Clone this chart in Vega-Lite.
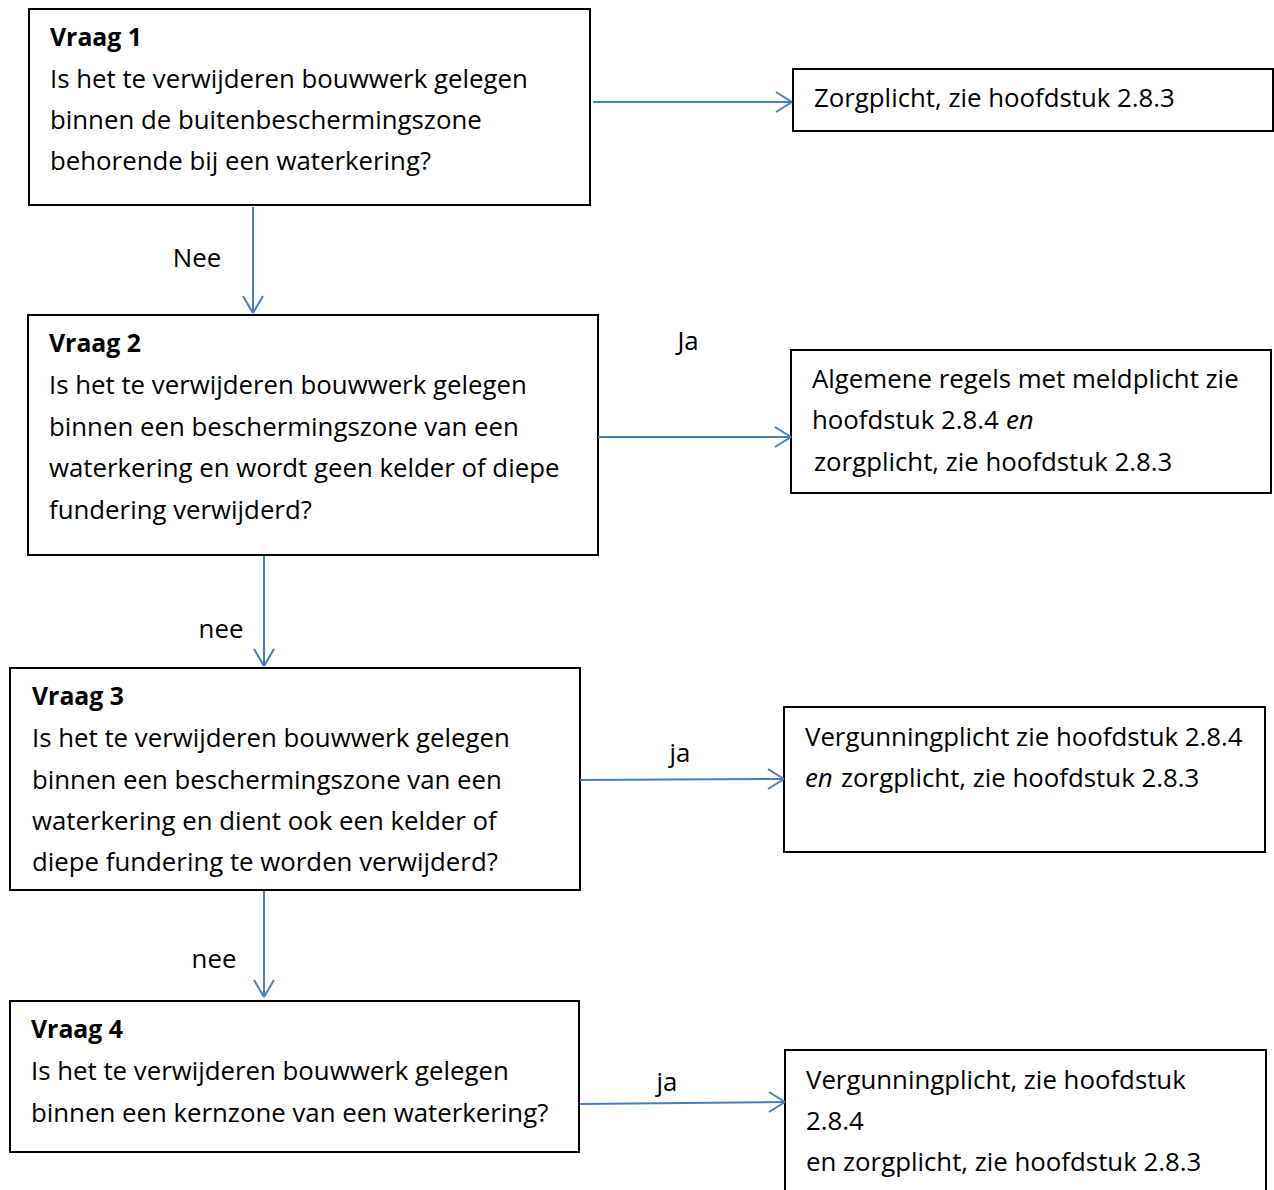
{
  "$schema": "https://vega.github.io/schema/vega-lite/v6.json",
  "width": 1274,
  "height": 1190,
  "padding": 0,
  "autosize": {"type": "none"},
  "background": "white",
  "config": {"view": {"stroke": null}, "axis": {"disable": true}},
  "datasets": {
    "boxes": [
      {"id": "q1", "x": 29, "x2": 590, "y": 9, "y2": 205},
      {"id": "r1", "x": 793, "x2": 1273, "y": 69, "y2": 131},
      {"id": "q2", "x": 28, "x2": 598, "y": 315, "y2": 555},
      {"id": "r2", "x": 791, "x2": 1271, "y": 350, "y2": 493},
      {"id": "q3", "x": 10, "x2": 580, "y": 668, "y2": 890},
      {"id": "r3", "x": 784, "x2": 1265, "y": 707, "y2": 852},
      {"id": "q4", "x": 10, "x2": 579, "y": 1001, "y2": 1152},
      {"id": "r4", "x": 785, "x2": 1266, "y": 1050, "y2": 1210}
    ],
    "lines": [
      {"x": 593, "y": 102, "x2": 792, "y2": 102},
      {"x": 792, "y": 102, "x2": 776, "y2": 92},
      {"x": 792, "y": 102, "x2": 776, "y2": 112},
      {"x": 253, "y": 207, "x2": 253, "y2": 313},
      {"x": 253, "y": 313, "x2": 243, "y2": 296},
      {"x": 253, "y": 313, "x2": 263, "y2": 296},
      {"x": 598, "y": 437, "x2": 791, "y2": 437},
      {"x": 791, "y": 437, "x2": 775, "y2": 427},
      {"x": 791, "y": 437, "x2": 775, "y2": 447},
      {"x": 264, "y": 556, "x2": 264, "y2": 666},
      {"x": 264, "y": 666, "x2": 254, "y2": 649},
      {"x": 264, "y": 666, "x2": 274, "y2": 649},
      {"x": 580, "y": 780, "x2": 784, "y2": 779},
      {"x": 784, "y": 779, "x2": 768, "y2": 769},
      {"x": 784, "y": 779, "x2": 768, "y2": 789},
      {"x": 264, "y": 891, "x2": 264, "y2": 997},
      {"x": 264, "y": 997, "x2": 254, "y2": 980},
      {"x": 264, "y": 997, "x2": 274, "y2": 980},
      {"x": 580, "y": 1104, "x2": 785, "y2": 1102},
      {"x": 785, "y": 1102, "x2": 769, "y2": 1092},
      {"x": 785, "y": 1102, "x2": 769, "y2": 1112}
    ],
    "texts": [
      {"s": "b", "x": 50, "y": 38, "t": "Vraag 1"},
      {"s": "n", "x": 50, "y": 79, "t": "Is het te verwijderen bouwwerk gelegen"},
      {"s": "n", "x": 50, "y": 120, "t": "binnen de buitenbeschermingszone"},
      {"s": "n", "x": 50, "y": 161, "t": "behorende bij een waterkering?"},
      {"s": "n", "x": 814, "y": 98, "t": "Zorgplicht, zie hoofdstuk 2.8.3"},
      {"s": "b", "x": 49, "y": 344, "t": "Vraag 2"},
      {"s": "n", "x": 49, "y": 385, "t": "Is het te verwijderen bouwwerk gelegen"},
      {"s": "n", "x": 49, "y": 427, "t": "binnen een beschermingszone van een"},
      {"s": "n", "x": 49, "y": 468, "t": "waterkering en wordt geen kelder of diepe"},
      {"s": "n", "x": 49, "y": 510, "t": "fundering verwijderd?"},
      {"s": "n", "x": 812, "y": 379, "t": "Algemene regels met meldplicht zie"},
      {"s": "n", "x": 812, "y": 420, "t": "hoofdstuk 2.8.4"},
      {"s": "i", "x": 1006, "y": 420, "t": "en"},
      {"s": "n", "x": 814, "y": 462, "t": "zorgplicht, zie hoofdstuk 2.8.3"},
      {"s": "b", "x": 32, "y": 697, "t": "Vraag 3"},
      {"s": "n", "x": 32, "y": 738, "t": "Is het te verwijderen bouwwerk gelegen"},
      {"s": "n", "x": 32, "y": 780, "t": "binnen een beschermingszone van een"},
      {"s": "n", "x": 32, "y": 821, "t": "waterkering en dient ook een kelder of"},
      {"s": "n", "x": 32, "y": 862, "t": "diepe fundering te worden verwijderd?"},
      {"s": "n", "x": 805, "y": 737, "t": "Vergunningplicht zie hoofdstuk 2.8.4"},
      {"s": "i", "x": 805, "y": 778, "t": "en"},
      {"s": "n", "x": 841, "y": 778, "t": "zorgplicht, zie hoofdstuk 2.8.3"},
      {"s": "b", "x": 31, "y": 1030, "t": "Vraag 4"},
      {"s": "n", "x": 31, "y": 1071, "t": "Is het te verwijderen bouwwerk gelegen"},
      {"s": "n", "x": 31, "y": 1113, "t": "binnen een kernzone van een waterkering?"},
      {"s": "n", "x": 806, "y": 1080, "t": "Vergunningplicht, zie hoofdstuk"},
      {"s": "n", "x": 806, "y": 1121, "t": "2.8.4"},
      {"s": "n", "x": 806, "y": 1162, "t": "en zorgplicht, zie hoofdstuk 2.8.3"},
      {"s": "c", "x": 197, "y": 258, "t": "Nee"},
      {"s": "c", "x": 688, "y": 341, "t": "Ja"},
      {"s": "c", "x": 221, "y": 629, "t": "nee"},
      {"s": "c", "x": 680, "y": 753, "t": "ja"},
      {"s": "c", "x": 214, "y": 959, "t": "nee"},
      {"s": "c", "x": 667, "y": 1082, "t": "ja"}
    ]
  },
  "layer": [
    {
      "data": {"name": "boxes"},
      "mark": {"type": "rect", "fill": "white", "stroke": "black", "strokeWidth": 2, "clip": true},
      "encoding": {
        "x": {"field": "x", "type": "quantitative", "scale": {"domain": [0, 1274], "range": [0, 1274], "nice": false, "zero": false}},
        "x2": {"field": "x2"},
        "y": {"field": "y", "type": "quantitative", "scale": {"domain": [0, 1190], "range": [0, 1190], "nice": false, "zero": false}},
        "y2": {"field": "y2"}
      }
    },
    {
      "data": {"name": "lines"},
      "mark": {"type": "rule", "stroke": "#4a7ebb", "strokeWidth": 2},
      "encoding": {
        "x": {"field": "x", "type": "quantitative", "scale": {"domain": [0, 1274], "range": [0, 1274], "nice": false, "zero": false}},
        "x2": {"field": "x2"},
        "y": {"field": "y", "type": "quantitative", "scale": {"domain": [0, 1190], "range": [0, 1190], "nice": false, "zero": false}},
        "y2": {"field": "y2"}
      }
    },
    {
      "data": {"name": "texts"},
      "transform": [{"filter": "datum.s == 'n'"}],
      "mark": {"type": "text", "font": "Open Sans", "fontSize": 25.8, "align": "left", "baseline": "middle", "dy": 1, "color": "black"},
      "encoding": {
        "x": {"field": "x", "type": "quantitative", "scale": {"domain": [0, 1274], "range": [0, 1274], "nice": false, "zero": false}},
        "y": {"field": "y", "type": "quantitative", "scale": {"domain": [0, 1190], "range": [0, 1190], "nice": false, "zero": false}},
        "text": {"field": "t"}
      }
    },
    {
      "data": {"name": "texts"},
      "transform": [{"filter": "datum.s == 'b'"}],
      "mark": {"type": "text", "font": "Open Sans", "fontSize": 24.8, "fontWeight": "bold", "align": "left", "baseline": "middle", "dy": 1, "color": "black"},
      "encoding": {
        "x": {"field": "x", "type": "quantitative", "scale": {"domain": [0, 1274], "range": [0, 1274], "nice": false, "zero": false}},
        "y": {"field": "y", "type": "quantitative", "scale": {"domain": [0, 1190], "range": [0, 1190], "nice": false, "zero": false}},
        "text": {"field": "t"}
      }
    },
    {
      "data": {"name": "texts"},
      "transform": [{"filter": "datum.s == 'i'"}],
      "mark": {"type": "text", "font": "Open Sans", "fontSize": 25.8, "fontStyle": "italic", "align": "left", "baseline": "middle", "dy": 1, "color": "black"},
      "encoding": {
        "x": {"field": "x", "type": "quantitative", "scale": {"domain": [0, 1274], "range": [0, 1274], "nice": false, "zero": false}},
        "y": {"field": "y", "type": "quantitative", "scale": {"domain": [0, 1190], "range": [0, 1190], "nice": false, "zero": false}},
        "text": {"field": "t"}
      }
    },
    {
      "data": {"name": "texts"},
      "transform": [{"filter": "datum.s == 'c'"}],
      "mark": {"type": "text", "font": "Open Sans", "fontSize": 25.8, "align": "center", "baseline": "middle", "dy": 1, "color": "black"},
      "encoding": {
        "x": {"field": "x", "type": "quantitative", "scale": {"domain": [0, 1274], "range": [0, 1274], "nice": false, "zero": false}},
        "y": {"field": "y", "type": "quantitative", "scale": {"domain": [0, 1190], "range": [0, 1190], "nice": false, "zero": false}},
        "text": {"field": "t"}
      }
    }
  ]
}
